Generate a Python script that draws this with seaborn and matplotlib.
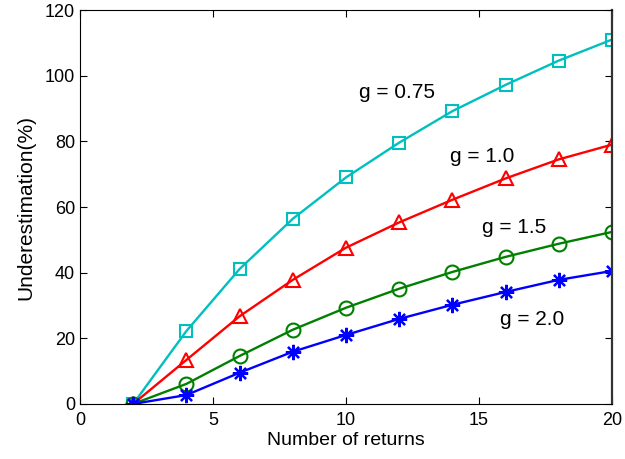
import matplotlib
matplotlib.use("Agg")
import matplotlib.pyplot as plt
import seaborn as sns
import pandas as pd

returns = [2, 4, 6, 8, 10, 12, 14, 16, 18, 20]
g075 = [0, 22.2, 41.1, 56.4, 69.0, 79.6, 89.2, 97.2, 104.6, 111.0]
g100 = [0, 13.4, 26.7, 37.8, 47.6, 55.3, 62.2, 68.7, 74.5, 79.0]
g150 = [0, 6.1, 14.6, 22.6, 29.3, 35.1, 40.2, 44.8, 48.8, 52.4]
g200 = [0, 2.7, 9.5, 15.9, 21.0, 25.9, 30.2, 34.1, 37.8, 40.5]
labels = ["g = 0.75", "g = 1.0", "g = 1.5", "g = 2.0"]

series = [
    (g075, "#00bfbf", "s", 8, 1.5),
    (g100, "#ff0000", "^", 10, 1.5),
    (g150, "#008000", "o", 10, 1.5),
    (g200, "#0000ff", (8, 2, 0), 11, 1.6),
]

sns.set_theme(style="ticks", rc={
    "text.color": "black", "axes.labelcolor": "black",
    "xtick.color": "black", "ytick.color": "black",
    "axes.edgecolor": "black",
})
plt.rcParams["font.family"] = ["Liberation Sans", "DejaVu Sans"]

fig = plt.figure(figsize=(6.25, 4.59), dpi=100)
ax = fig.add_axes([0.128, 0.120, 0.851, 0.858])

for (vals, color, marker, ms, mew), lab in zip(series, labels):
    df = pd.DataFrame({"x": returns, "y": vals})
    sns.lineplot(data=df, x="x", y="y", ax=ax, color=color, linewidth=1.7,
                 marker=marker, markersize=ms, markerfacecolor="none",
                 markeredgecolor=color, markeredgewidth=mew)

ax.text(10.5, 94.8, labels[0], fontsize=15, va="center", ha="left")
ax.text(13.9, 75.3, labels[1], fontsize=15, va="center", ha="left")
ax.text(15.1, 53.7, labels[2], fontsize=15, va="center", ha="left")
ax.text(15.8, 25.6, labels[3], fontsize=15, va="center", ha="left")

ax.set_xlim(0, 20)
ax.set_ylim(0, 120)
ax.set_xticks([0, 5, 10, 15, 20])
ax.set_yticks([0, 20, 40, 60, 80, 100, 120])
ax.tick_params(direction="in", top=True, right=True, labelsize=13, length=5, width=0.8)
ax.tick_params(axis="x", pad=6)
ax.set_xlabel("Number of returns", fontsize=14, labelpad=2)
ax.set_ylabel("Underestimation(%)", fontsize=15, labelpad=7)
for s in ax.spines.values():
    s.set_linewidth(0.8)
    s.set_color("black")
ax.spines["right"].set_linewidth(1.6)
ax.spines["right"].set_color("#333333")

fig.savefig("out.png", dpi=100)
